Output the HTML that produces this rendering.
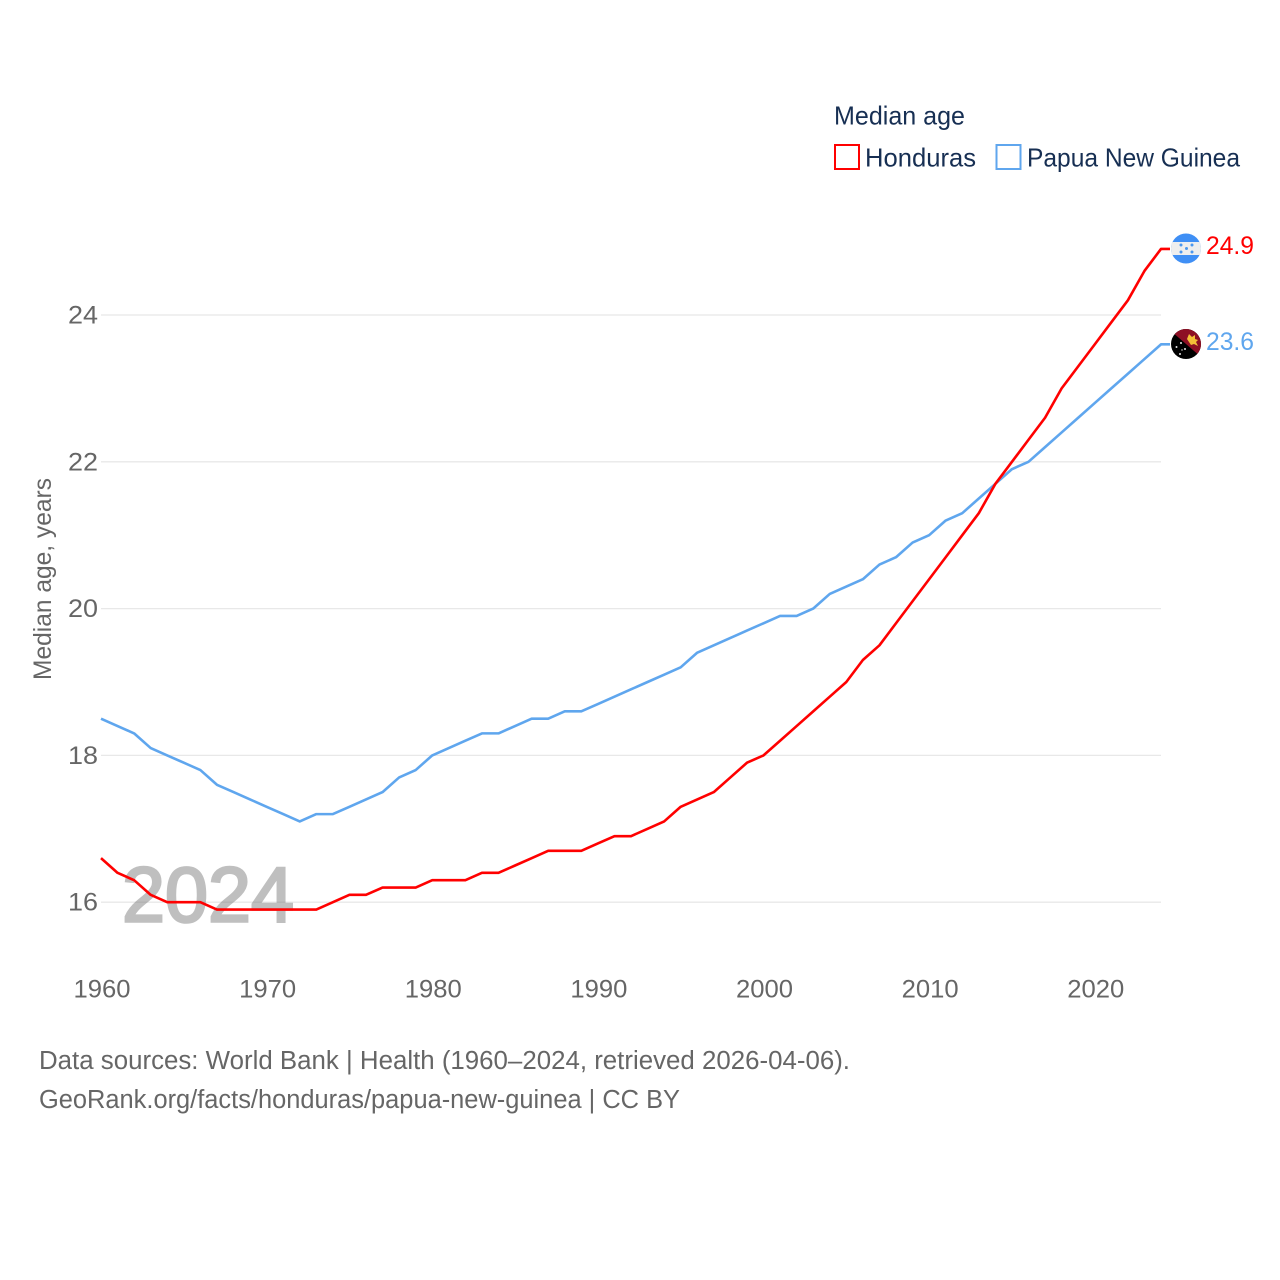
<!DOCTYPE html>
<html lang="en">
<head>
<meta charset="utf-8">
<title>Median age: Honduras and Papua New Guinea</title>
<style>
html,body{margin:0;padding:0;background:#fff;}
svg{display:block;}
text{font-family:"Liberation Sans",sans-serif;}
</style>
</head>
<body>
<svg id="chart" xmlns="http://www.w3.org/2000/svg" width="1280" height="1280" viewBox="0 0 1280 1280">
  <defs>
    <clipPath id="flag-clip-hn"><circle cx="1186" cy="248.5" r="15"/></clipPath>
    <clipPath id="flag-clip-pg"><circle cx="1186" cy="344" r="15"/></clipPath>
  </defs>
  <rect x="0" y="0" width="1280" height="1280" fill="#ffffff"/>
  <g id="grid"></g>
  <text x="122" y="921.5" font-size="78" font-weight="400" fill="#808080" stroke="#808080" stroke-width="2.6" opacity="0.5" textLength="172" lengthAdjust="spacingAndGlyphs">2024</text>
  <g id="y-ticks"></g>
  <g id="x-ticks"></g>
  <text transform="translate(51,680) rotate(-90)" font-size="25" fill="#666666" textLength="202" lengthAdjust="spacingAndGlyphs">Median age, years</text>
  <g id="series"></g>

  <g>
    <text x="834" y="124.300" font-size="26" fill="#172f53" textLength="131" lengthAdjust="spacingAndGlyphs">Median age</text>
    <g>
      <rect x="835" y="145" width="24" height="24" fill="#ffffff" stroke="#ff0000" stroke-width="2"/>
      <text x="865" y="166.300" font-size="26" fill="#172f53" textLength="111" lengthAdjust="spacingAndGlyphs">Honduras</text>
    </g>
    <g>
      <rect x="996.500" y="145" width="24" height="24" fill="#ffffff" stroke="#5fa6ee" stroke-width="2"/>
      <text x="1027" y="166.300" font-size="26" fill="#172f53" textLength="213" lengthAdjust="spacingAndGlyphs">Papua New Guinea</text>
    </g>
  </g>

  <g clip-path="url(#flag-clip-hn)">
    <rect x="1171" y="233" width="30" height="31" fill="#3f8ff5"/>
    <rect x="1171" y="242" width="30" height="13" fill="#eeeeee"/>
    <g fill="#4a97ee">
      <circle cx="1181" cy="245" r="1.500"/><circle cx="1192" cy="245" r="1.500"/>
      <circle cx="1186.500" cy="248.500" r="1.500"/>
      <circle cx="1181" cy="252" r="1.500"/><circle cx="1192" cy="252" r="1.500"/>
    </g>
  </g>
  <g clip-path="url(#flag-clip-pg)">
    <rect x="1171" y="329" width="30" height="30" fill="#000000"/>
    <polygon points="1171,331 1201,331 1201,357 1171,331 1171,329 1201,329 1201,357" fill="#8e0f24"/>
    <polygon points="1187,339 1189,334 1192,337 1195,335 1195,339 1198,340 1196,342 1198,346 1194,344 1191,345 1189,342" fill="#f4bf37"/>
    <g fill="#e8e8e8">
      <circle cx="1176.500" cy="347" r="1"/><circle cx="1181" cy="343" r="1"/>
      <circle cx="1185" cy="349" r="1"/><circle cx="1180" cy="354" r="1"/>
      <circle cx="1182" cy="350" r="0.700"/>
    </g>
  </g>

  <text x="1206" y="254" font-size="25" fill="#ff0000" textLength="48" lengthAdjust="spacingAndGlyphs">24.9</text>
  <text x="1206" y="350" font-size="25" fill="#5fa6ee" textLength="48" lengthAdjust="spacingAndGlyphs">23.6</text>

  <text x="39" y="1069" font-size="25.500" fill="#666666" textLength="811" lengthAdjust="spacingAndGlyphs">Data sources: World Bank | Health (1960–2024, retrieved 2026-04-06).</text>
  <text x="39" y="1108" font-size="25.500" fill="#666666" textLength="641" lengthAdjust="spacingAndGlyphs">GeoRank.org/facts/honduras/papua-new-guinea | CC BY</text>
</svg>
<script>
const startYear = 1960;
const hondurasValues = [16.6,16.4,16.3,16.1,16.0,16.0,16.0,15.9,15.9,15.9,15.9,15.9,15.9,15.9,16.0,16.1,16.1,16.2,16.2,16.2,16.3,16.3,16.3,16.4,16.4,16.5,16.6,16.7,16.7,16.7,16.8,16.9,16.9,17.0,17.1,17.3,17.4,17.5,17.7,17.9,18.0,18.2,18.4,18.6,18.8,19.0,19.3,19.5,19.8,20.1,20.4,20.7,21.0,21.3,21.7,22.0,22.3,22.6,23.0,23.3,23.6,23.9,24.2,24.6,24.9];
const papuaValues = [18.5,18.4,18.3,18.1,18.0,17.9,17.8,17.6,17.5,17.4,17.3,17.2,17.1,17.2,17.2,17.3,17.4,17.5,17.7,17.8,18.0,18.1,18.2,18.3,18.3,18.4,18.5,18.5,18.6,18.6,18.7,18.8,18.9,19.0,19.1,19.2,19.4,19.5,19.6,19.7,19.8,19.9,19.9,20.0,20.2,20.3,20.4,20.6,20.7,20.9,21.0,21.2,21.3,21.5,21.7,21.9,22.0,22.2,22.4,22.6,22.8,23.0,23.2,23.4,23.6];
const yTickValues = [16,18,20,22,24];
const xTickValues = [1960,1970,1980,1990,2000,2010,2020];

const NS = 'http://www.w3.org/2000/svg';
function xScale(year){ return 101 + (year - 1960) * (1161 - 101) / 64; }
function yScale(v){ return 902.2 - (v - 16) * (902.2 - 315.0) / 8; }

const gridGroup = document.getElementById('grid');
const yTickGroup = document.getElementById('y-ticks');
const xTickGroup = document.getElementById('x-ticks');
const seriesGroup = document.getElementById('series');

yTickValues.forEach(function(v){
  const line = document.createElementNS(NS,'line');
  
  
  line.setAttribute('x1', xScale(1960));
  line.setAttribute('x2', xScale(2024));
  line.setAttribute('y1', yScale(v));
  line.setAttribute('y2', yScale(v));
  line.setAttribute('stroke', '#e8e8e8');
  line.setAttribute('stroke-width', '1.3');
  gridGroup.appendChild(line);

  const label = document.createElementNS(NS,'text');
  
  
  label.setAttribute('x', 68);
  label.setAttribute('y', yScale(v) + 8.5);
  label.setAttribute('font-size', '25');
  label.setAttribute('fill', '#666666');
  label.setAttribute('textLength', '30');
  label.setAttribute('lengthAdjust', 'spacingAndGlyphs');
  label.textContent = String(v);
  yTickGroup.appendChild(label);
});

xTickValues.forEach(function(y){
  const label = document.createElementNS(NS,'text');
  
  
  label.setAttribute('x', xScale(y) - 27.5);
  label.setAttribute('y', 997.3);
  label.setAttribute('font-size', '25');
  label.setAttribute('fill', '#666666');
  label.setAttribute('textLength', '57');
  label.setAttribute('lengthAdjust', 'spacingAndGlyphs');
  label.textContent = String(y);
  xTickGroup.appendChild(label);
});

function linePoints(values){
  const pts = values.map(function(v, i){
    return xScale(startYear + i).toFixed(2) + ',' + yScale(v).toFixed(2);
  });
  const last = values[values.length - 1];
  pts.push((xScale(startYear + values.length - 1) + 9).toFixed(2) + ',' + yScale(last).toFixed(2));
  return pts.join(' ');
}

const papuaLine = document.createElementNS(NS,'polyline');


papuaLine.setAttribute('points', linePoints(papuaValues));
papuaLine.setAttribute('fill', 'none');
papuaLine.setAttribute('stroke', '#5fa6ee');
papuaLine.setAttribute('stroke-width', '2.6');
papuaLine.setAttribute('stroke-linejoin', 'round');
seriesGroup.appendChild(papuaLine);

const hondurasLine = document.createElementNS(NS,'polyline');


hondurasLine.setAttribute('points', linePoints(hondurasValues));
hondurasLine.setAttribute('fill', 'none');
hondurasLine.setAttribute('stroke', '#ff0000');
hondurasLine.setAttribute('stroke-width', '2.6');
hondurasLine.setAttribute('stroke-linejoin', 'round');
seriesGroup.appendChild(hondurasLine);
</script>
</body>
</html>
